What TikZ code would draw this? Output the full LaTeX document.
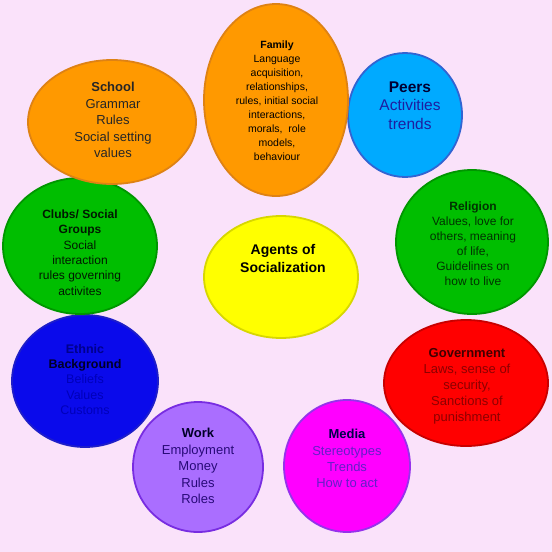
\documentclass[tikz,border=0pt]{standalone}
\usepackage{fontspec}
\setmainfont{Liberation Sans}
\usepackage{tikz}
\usetikzlibrary{shapes.geometric}

\definecolor{bgpink}{RGB}{250,226,250}
\definecolor{orangefill}{RGB}{255,153,0}
\definecolor{orangeline}{RGB}{222,130,20}
\definecolor{skyfill}{RGB}{0,170,255}
\definecolor{skyline}{RGB}{50,100,210}
\definecolor{greenfill}{RGB}{0,190,0}
\definecolor{greenline}{RGB}{0,150,0}
\definecolor{bluefill}{RGB}{10,10,235}
\definecolor{blueline}{RGB}{30,30,200}
\definecolor{redfill}{RGB}{255,0,0}
\definecolor{redline}{RGB}{200,0,0}
\definecolor{lilacfill}{RGB}{170,110,255}
\definecolor{lilacline}{RGB}{120,45,225}
\definecolor{magentafill}{RGB}{255,0,255}
\definecolor{magentaline}{RGB}{150,50,235}
\definecolor{yellowfill}{RGB}{255,255,0}
\definecolor{yellowline}{RGB}{215,215,0}

\begin{document}
\begin{tikzpicture}[x=1pt,y=-1pt]
\tikzstyle{agent}=[ellipse, draw, line width=1.8pt, inner sep=0pt]
\tikzstyle{txt}=[align=center, inner sep=0pt]
% background
\fill[bgpink] (0,0) rectangle (552,552);
\useasboundingbox (0,0) rectangle (552,552);
% the agents
\node[agent, fill=lilacfill, draw=lilacline, minimum width=130pt, minimum height=130pt] (work) at (198,467) {};
\node[agent, fill=magentafill, draw=magentaline, minimum width=126pt, minimum height=132pt] (media) at (347,466) {};
\node[agent, fill=bluefill, draw=blueline, minimum width=146pt, minimum height=132pt] (ethnic) at (85,381) {};
\node[agent, fill=redfill, draw=redline, minimum width=164pt, minimum height=126pt] (gov) at (466,383) {};
\node[agent, fill=greenfill, draw=greenline, minimum width=154pt, minimum height=136pt] (clubs) at (80,246) {};
\node[agent, fill=greenfill, draw=greenline, minimum width=152pt, minimum height=144pt] (religion) at (472,242) {};
\node[agent, fill=orangefill, draw=orangeline, minimum width=168pt, minimum height=124pt] (school) at (112,122) {};
\node[agent, fill=skyfill, draw=skyline, minimum width=114pt, minimum height=124pt] (peers) at (405,115) {};
\node[agent, fill=orangefill, draw=orangeline, minimum width=144pt, minimum height=192pt] (family) at (276,100) {};
\node[agent, fill=yellowfill, draw=yellowline, minimum width=154pt, minimum height=122pt] (agents) at (281,277) {};
% texts
\node[txt, font=\fontsize{10.5}{14}\selectfont] (familyT) at (277,101)
  {\textbf{Family}\\Language\\acquisition,\\relationships,\\rules, initial social\\interactions,\\morals,\ \ role\\models,\\behaviour};
\node[txt, font=\fontsize{13}{16.5}\selectfont, text=black!85] (schoolT) at (113,120)
  {\textbf{School}\\Grammar\\Rules\\Social setting\\values};
\node[txt, font=\fontsize{15.5}{18.5}\selectfont, text={rgb,255:red,30;green,30;blue,160}] (peersT) at (410,105.5)
  {\textcolor{black!80!blue}{\textbf{Peers}}\\Activities\\trends};
\node[txt, font=\fontsize{12}{15.4}\selectfont, text=black!90!green] (clubsT) at (80,252.5)
  {\textbf{Clubs/ Social}\\\textbf{Groups}\\Social\\interaction\\rules governing\\activites};
\node[txt, font=\fontsize{12}{15}\selectfont, text=black!80!green] (religionT) at (473,243.5)
  {\textbf{Religion}\\Values, love for\\others, meaning\\of life,\\Guidelines on\\how to live};
\node[txt, font=\fontsize{12.5}{15.3}\selectfont, text={rgb,255:red,0;green,0;blue,185}] (ethnicT) at (85,379.5)
  {\textcolor{blue!55!black}{\textbf{Ethnic}}\\\textcolor{black!85!blue}{\textbf{Background}}\\Beliefs\\Values\\Customs};
\node[txt, font=\fontsize{13}{16}\selectfont, text={rgb,255:red,140;green,0;blue,0}] (govT) at (467,386)
  {\textcolor{red!25!black}{\textbf{Government}}\\Laws, sense of\\security,\\Sanctions of\\punishment};
\node[txt, font=\fontsize{13}{16.5}\selectfont, text={rgb,255:red,40;green,10;blue,120}] (workT) at (198,466)
  {\textcolor{black!85!blue}{\textbf{Work}}\\Employment\\Money\\Rules\\Roles};
\node[txt, font=\fontsize{13}{16.3}\selectfont, text={rgb,255:red,100;green,30;blue,200}] (mediaT) at (347,458.5)
  {\textcolor{black!70!blue}{\textbf{Media}}\\Stereotypes\\Trends\\How to act};
\node[txt, font=\fontsize{14}{18}\selectfont\bfseries] (agentsT) at (283,258)
  {Agents of\\Socialization};
\end{tikzpicture}
\end{document}
